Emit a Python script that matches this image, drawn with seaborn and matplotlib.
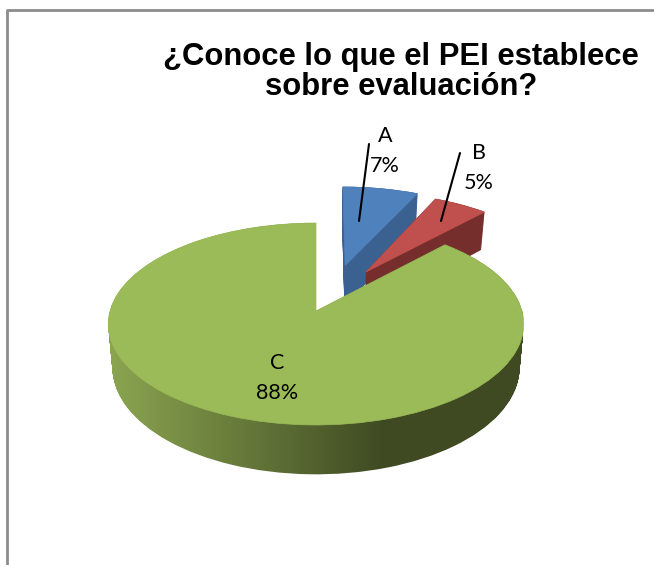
import numpy as np
import matplotlib
matplotlib.use('Agg')
import matplotlib.pyplot as plt
import seaborn as sns
from matplotlib.colors import LinearSegmentedColormap
from matplotlib.patches import PathPatch
from matplotlib.path import Path

# data
labels = ['A', 'B', 'C']
values = [7, 5, 88]
explode = [0.5, 0.5, 0]
nudge_x = [8, -5, 0]
top_colors = ['#4f81bd', '#c0504d', '#9bbb59']
side_colors = ['#3b6191', '#752e2c', '#5f7237']
green_side = ['#8ca651', '#66793a', '#3f4a22', '#3f4a22']

title = '¿Conoce lo que el PEI establece\nsobre evaluación?'

sns.set_theme(style='white')
plt.rcParams['font.family'] = ['Lato', 'DejaVu Sans']

fig = plt.figure(figsize=(6.54, 5.65), dpi=100)
ax = fig.add_axes([0, 0, 1, 1])

wedges, _ = ax.pie(values, explode=explode, startangle=90, counterclock=False, frame=True)


# pie plane -> picture, with the slight perspective of the 3d chart
def project(xy, t=0.0, dx=0):
    persp = 1 + 0.1287 * xy[:, 1]
    px = 316 + dx + 206 * (1 - 0.02 * t) * xy[:, 0] / persp
    py = 311 - 99.3 * xy[:, 1] / persp + 43 * t / persp
    return np.column_stack([px, py])


n_layers = 44
depths = np.linspace(1, 0, n_layers)

for i, w in enumerate(wedges):
    w.set_visible(False)
    path = w.get_path()
    verts = path.vertices
    z = 2 + i * 2
    if labels[i] == 'C':
        # side of the big slice has a left to right shade
        sweep = Path.make_compound_path(*[Path(project(verts, t), path.codes) for t in depths])
        cmap = LinearSegmentedColormap.from_list('side', green_side)
        img = ax.imshow(np.linspace(0, 1, 256).reshape(1, -1), cmap=cmap, aspect='auto',
                        extent=(105, 523, 480, 200), zorder=z)
        img.set_clip_path(sweep, transform=ax.transData)
    else:
        for t in depths:
            ax.add_patch(PathPatch(Path(project(verts, t, nudge_x[i]), path.codes), fc=side_colors[i],
                                   ec=side_colors[i], lw=0.5, zorder=z))
    ax.add_patch(PathPatch(Path(project(verts, 0, nudge_x[i]), path.codes), fc=top_colors[i],
                           ec=top_colors[i], lw=0.5, zorder=z + 1))

ax.set_xlim(0, 654)
ax.set_ylim(565, 0)
ax.set_aspect('auto')
ax.axis('off')

# outer frame, open on the right and at the bottom
ax.plot([6.5, 6.5, 654], [565, 9.5, 9.5], color='#8c8c8c', lw=2, zorder=1)

ax.text(401, 72, title, ha='center', va='center', fontsize=22.3, fontweight='bold',
        family=['Liberation Sans'], color='black', linespacing=0.98, zorder=10)

# data labels and leader lines
label_pos = [(385, 151), (479, 168), (277, 378)]
for name, val, (lx, ly) in zip(labels, values, label_pos):
    ax.text(lx, ly, f'{name}\n{val}%', ha='center', va='center', fontsize=15.5,
            family=['Lato'], color='black', linespacing=1.65, zorder=10)
ax.plot([369, 359], [144, 221], color='black', lw=1.5, zorder=9)
ax.plot([460, 441], [153, 221], color='black', lw=1.5, zorder=9)

fig.savefig('out.png', dpi=100)
